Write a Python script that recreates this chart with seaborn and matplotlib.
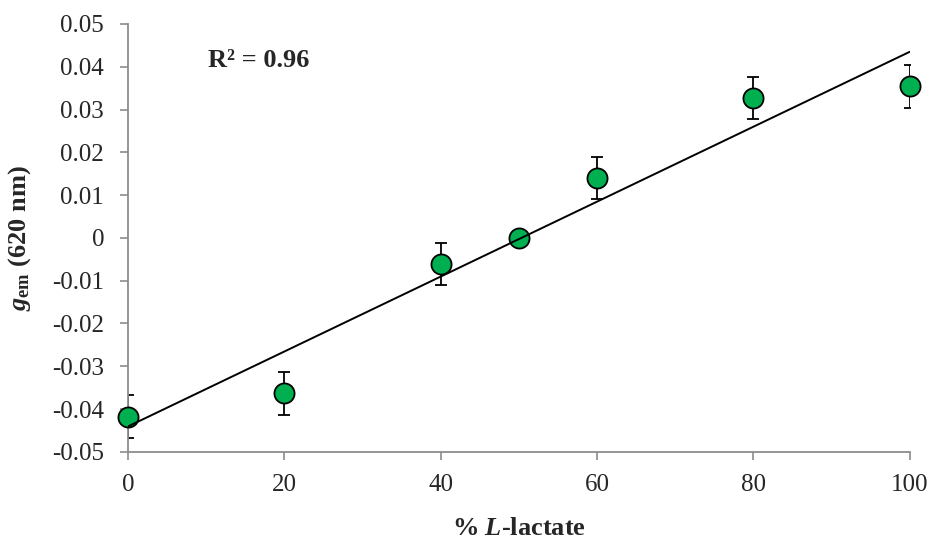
import matplotlib
matplotlib.use("Agg")
import matplotlib.pyplot as plt
import seaborn as sns
import numpy as np
import pandas as pd

# Data
pct_l_lactate = [0, 20, 40, 50, 60, 80, 100]
g_em = [-0.0418, -0.0363, -0.0061, 0.0, 0.0140, 0.0327, 0.0354]
g_err = [0.005, 0.005, 0.005, 0.0, 0.005, 0.005, 0.005]
x_ticks = [0, 20, 40, 60, 80, 100]
y_ticks = [-0.05, -0.04, -0.03, -0.02, -0.01, 0, 0.01, 0.02, 0.03, 0.04, 0.05]
y_tick_labels = ['-0.05', '-0.04', '-0.03', '-0.02', '-0.01', '0',
                 '0.01', '0.02', '0.03', '0.04', '0.05']

df = pd.DataFrame({'pct': pct_l_lactate, 'g': g_em, 'err': g_err})

sns.set_theme(style="ticks")
plt.rcParams['font.family'] = ['Liberation Serif', 'DejaVu Serif']
plt.rcParams['mathtext.fontset'] = 'custom'
plt.rcParams['mathtext.rm'] = 'Liberation Serif:bold'
plt.rcParams['mathtext.bf'] = 'Liberation Serif:bold'
plt.rcParams['mathtext.it'] = 'Liberation Serif:bold:italic'

axis_gray = '#8c8c8c'

fig = plt.figure(figsize=(9.33, 5.45), dpi=100)
ax = fig.add_axes([0.137, 0.171, 0.838, 0.785])

# error bars
ax.errorbar(df['pct'], df['g'], yerr=df['err'], fmt='none', ecolor='black',
            elinewidth=1.3, capsize=4.5, capthick=1.3, zorder=2)

# points
sns.scatterplot(data=df, x='pct', y='g', ax=ax, s=210, color='#00b050',
                edgecolor='black', linewidth=1.3, zorder=3, clip_on=False,
                legend=False)

# linear trend line drawn on top of the markers
sns.regplot(data=df, x='pct', y='g', ax=ax, scatter=False, ci=None,
            line_kws={'color': 'black', 'lw': 1.4, 'zorder': 4})

slope, intercept = np.polyfit(df['pct'], df['g'], 1)
pred = slope * df['pct'] + intercept
r2 = 1 - np.sum((df['g'] - pred) ** 2) / np.sum((df['g'] - df['g'].mean()) ** 2)
ax.text(10.3, 0.0415, f"R\u00b2 = {r2:.2f}", fontsize=19, fontweight='bold',
        va='center', ha='left')

ax.set_xlim(0, 100)
ax.set_ylim(-0.05, 0.05)
ax.set_xticks(x_ticks)
ax.set_yticks(y_ticks)
ax.set_yticklabels(y_tick_labels)
ax.tick_params(axis='both', labelsize=18, length=6, width=1.2,
               color=axis_gray, direction='out')
ax.tick_params(axis='x', pad=10)
ax.tick_params(axis='y', pad=11)

for side in ['top', 'right']:
    ax.spines[side].set_visible(False)
for side in ['left', 'bottom']:
    ax.spines[side].set_color(axis_gray)
    ax.spines[side].set_linewidth(1.3)

ax.set_xlabel(r'% $\mathit{L}$-lactate', fontsize=19, fontweight='bold')
ax.set_ylabel(r'$\mathit{g}_{\mathrm{em}}$ (620 nm)', fontsize=19,
              fontweight='bold')
ax.xaxis.set_label_coords(0.5, -0.152)
ax.yaxis.set_label_coords(-0.121, 0.5)

fig.savefig('out.png', dpi=100)
